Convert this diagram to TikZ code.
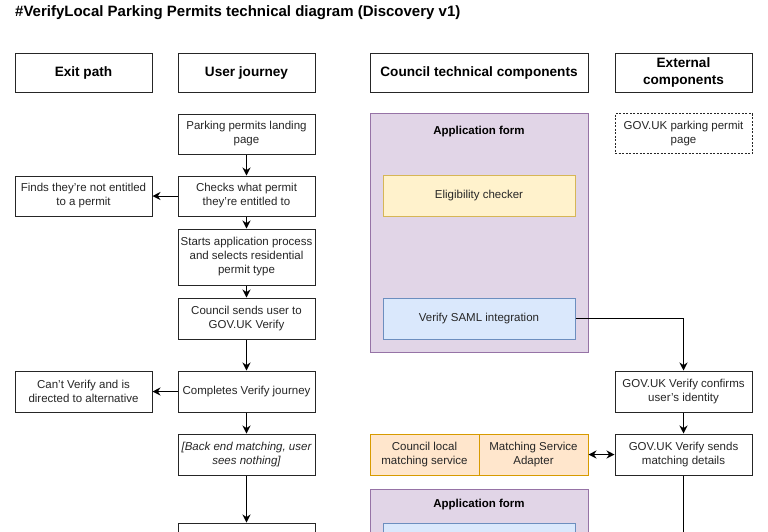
\documentclass[tikz,border=0pt]{standalone}
\usepackage{fontspec}
\setmainfont{Liberation Sans}
\usepackage{tikz}
\usetikzlibrary{arrows.meta}
\definecolor{formfill}{HTML}{E1D5E7}
\definecolor{formline}{HTML}{9673A6}
\definecolor{checkfill}{HTML}{FFF2CC}
\definecolor{checkline}{HTML}{D6B656}
\definecolor{samlfill}{HTML}{DAE8FC}
\definecolor{samlline}{HTML}{6C8EBF}
\definecolor{matchfill}{HTML}{FFE6CC}
\definecolor{matchline}{HTML}{D79B00}
\tikzset{
BOX/.style ={draw=black!85,line width=1pt,fill=white,minimum width=137pt,minimum height=41pt,align=center,inner sep=2pt,text=black!85,font=\fontsize{11.5}{14}\selectfont},
HEAD/.style ={BOX,minimum height=39pt,text=black,font=\bfseries\fontsize{13.6}{17}\selectfont},
DASHBOX/.style ={BOX,dash pattern=on 2pt off 1.5pt},
FORM/.style ={BOX,draw=formline,fill=formfill,minimum width=218pt},
FORMLABEL/.style ={font=\bfseries\fontsize{11.5}{14}\selectfont},
CHECK/.style ={BOX,draw=checkline,fill=checkfill,minimum width=192pt},
SAML/.style ={BOX,draw=samlline,fill=samlfill,minimum width=192pt},
MATCH/.style ={BOX,draw=matchline,fill=matchfill,minimum width=109pt},
LINE/.style ={draw=black,line width=1pt},
ARROW/.style ={LINE,-{Stealth[length=8pt,width=8pt]}},
BOTHWAYS/.style ={LINE,{Stealth[length=8pt,width=8pt]}-{Stealth[length=8pt,width=8pt]}},
}
\begin{document}
\begin{tikzpicture}[x=1pt,y=-1pt]
	\useasboundingbox (0,0) rectangle (768,531);
	\clip (0,0) rectangle (768,531);
	\node[anchor=west,inner sep=0pt,font=\bfseries\fontsize{15}{18}\selectfont] (title) at (15,12.5) {\#VerifyLocal Parking Permits technical diagram (Discovery v1)};

	\node[HEAD] (exithead) at (83.5,72.5) {Exit path};
	\node[HEAD] (userhead) at (246.5,72.5) {User journey};
	\node[HEAD,minimum width=218pt] (councilhead) at (479,72.5) {Council technical components};
	\node[HEAD] (exthead) at (683.5,72.5) {External\\components};

	\node[BOX,minimum height=40pt] (landing) at (246.5,134) {Parking permits landing\\page};
	\node[BOX,minimum height=40pt] (checks) at (246.5,196) {Checks what permit\\they're entitled to};
	\node[BOX,minimum height=56pt] (starts) at (246.5,257) {Starts application process\\and selects residential\\permit type};
	\node[BOX] (tocouncil) at (246.5,318.5) {Council sends user to\\GOV.UK Verify};
	\node[BOX] (completes) at (246.5,391.5) {Completes Verify journey};
	\node[BOX,font=\itshape\fontsize{11.5}{14}\selectfont] (backend) at (246.5,454.5) {[Back end matching, user\\sees nothing]};
	\node[BOX] (nextstep) at (246.5,543.5) {};

	\node[BOX,minimum height=40pt] (notentitled) at (83.5,196) {Finds they're not entitled\\to a permit};
	\node[BOX] (cantverify) at (83.5,391.5) {Can't Verify and is\\directed to alternative};

	\node[FORM,minimum height=239pt] (form) at (479,232.5) {};
	\node[FORMLABEL] (formlabel) at (479,132) {Application form};
	\node[CHECK] (eligibility) at (479,195.5) {Eligibility checker};
	\node[SAML] (saml) at (479,318.5) {Verify SAML integration};
	\node[MATCH] (localms) at (424.5,454.5) {Council local\\matching service};
	\node[MATCH] (msa) at (533.5,454.5) {Matching Service\\Adapter};
	\node[FORM,minimum height=222pt] (formtwo) at (479,600) {};
	\node[FORMLABEL] (formtwolabel) at (479,505) {Application form};
	\node[SAML] (samltwo) at (479,543.5) {};

	\node[DASHBOX,minimum height=40pt] (permitpage) at (683.5,133.5) {GOV.UK parking permit\\page};
	\node[BOX] (confirms) at (683.5,391.5) {GOV.UK Verify confirms\\user's identity};
	\node[BOX] (matchdetails) at (683.5,454.5) {GOV.UK Verify sends\\matching details};
	\coordinate (offpage) at (683.5,560);

	\draw[ARROW] (landing) -- (checks);
	\draw[ARROW] (checks) -- (starts);
	\draw[ARROW] (starts) -- (tocouncil);
	\draw[ARROW] (tocouncil) -- (completes);
	\draw[ARROW] (completes) -- (backend);
	\draw[ARROW] (backend) -- (nextstep);
	\draw[ARROW] (checks) -- (notentitled);
	\draw[ARROW] (completes) -- (cantverify);
	\draw[ARROW] (saml.east) -| (confirms.north);
	\draw[ARROW] (confirms) -- (matchdetails);
	\draw[BOTHWAYS] (msa) -- (matchdetails);
	\draw[LINE] (matchdetails) -- (offpage);
\end{tikzpicture}
\end{document}
